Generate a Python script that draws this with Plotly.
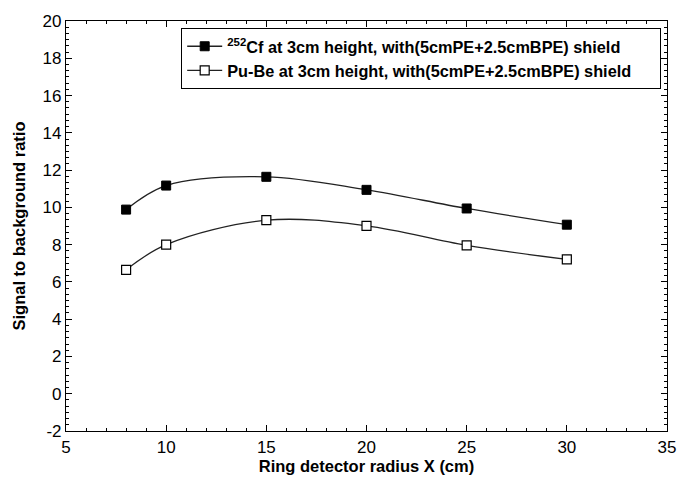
import plotly.graph_objects as go

radius = [8, 10, 15, 20, 25, 30]
cf_ratio = [9.88, 11.17, 11.64, 10.94, 9.94, 9.07]
pube_ratio = [6.65, 8.0, 9.31, 9.01, 7.96, 7.21]

pad = "&nbsp;" * 5
cf_name = "<sup>252</sup>Cf at 3cm height, with(5cmPE+2.5cmBPE) shield" + pad
pube_name = "Pu-Be at 3cm height, with(5cmPE+2.5cmBPE) shield" + pad

x_ticks = [5, 10, 15, 20, 25, 30, 35]
y_ticks = [-2, 0, 2, 4, 6, 8, 10, 12, 14, 16, 18, 20]

fig = go.Figure()
fig.add_trace(go.Scatter(
    x=radius, y=cf_ratio, name=cf_name, mode="lines+markers",
    line=dict(color="#222222", width=1.3, shape="spline", smoothing=1.0),
    marker=dict(symbol="square", size=9, color="black", line=dict(color="black", width=1)),
))
fig.add_trace(go.Scatter(
    x=radius, y=pube_ratio, name=pube_name, mode="lines+markers",
    line=dict(color="#222222", width=1.3, shape="spline", smoothing=1.0),
    marker=dict(symbol="square", size=9, color="white", line=dict(color="black", width=1.2)),
))

axis_common = dict(
    showgrid=False, zeroline=False, showline=True, linecolor="black", linewidth=1.2,
    mirror="ticks", ticks="inside", ticklen=6, tickcolor="black", tickwidth=1,
    tickfont=dict(family="Liberation Sans, Arial", size=17, color="black"),
)

fig.update_xaxes(
    range=[5, 35], tickvals=x_ticks, ticktext=[str(v) for v in x_ticks],
    minor=dict(dtick=1, tick0=5, ticks="inside", ticklen=3, tickcolor="black"),
    title=dict(text="Ring detector radius X (cm)", standoff=4,
               font=dict(family="Liberation Sans, Arial", size=16.5, color="black", weight="bold")),
    **axis_common,
)
fig.update_yaxes(
    range=[-2, 20], tickvals=y_ticks, ticktext=[str(v) for v in y_ticks],
    minor=dict(dtick=1/3, tick0=0, ticks="inside", ticklen=3, tickcolor="black"),
    title=dict(text="Signal to background ratio", standoff=12,
               font=dict(family="Liberation Sans, Arial", size=16.5, color="black", weight="bold")),
    **axis_common,
)

fig.update_layout(
    width=692, height=484,
    margin=dict(l=66, r=25, t=14, b=51),
    paper_bgcolor="white", plot_bgcolor="white",
    font=dict(family="Liberation Sans, Arial", color="black"),
    legend=dict(
        x=0.99, y=0.983, xanchor="right", yanchor="top",
        bordercolor="black", borderwidth=1.2, bgcolor="white",
        font=dict(family="Liberation Sans, Arial", size=16.3, color="black", weight="bold"),
        itemwidth=35, tracegroupgap=0,
    ),
)

fig.write_html("out.html")
